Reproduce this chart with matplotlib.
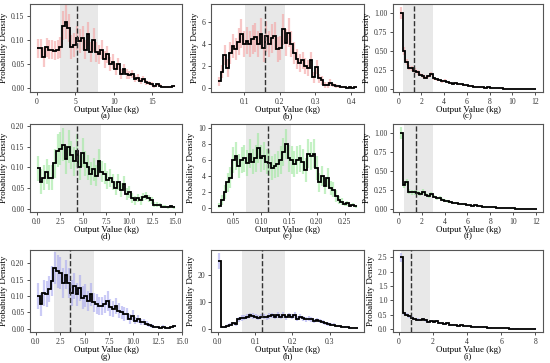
import numpy as np
import matplotlib
matplotlib.use("Agg")
import matplotlib.pyplot as plt

plt.rcParams['font.family'] = ['Liberation Serif', 'DejaVu Serif']

# (a)
a_start, a_width = 0.0, 0.36
a_vals = [0.083, 0.083, 0.065, 0.085, 0.080, 0.080, 0.078, 0.080, 0.085, 0.130,
          0.138, 0.125, 0.085, 0.090, 0.105, 0.098, 0.105, 0.080, 0.112, 0.075,
          0.100, 0.075, 0.070, 0.080, 0.060, 0.070, 0.050, 0.055, 0.040, 0.050,
          0.030, 0.040, 0.030, 0.028, 0.030, 0.020, 0.022, 0.015, 0.020, 0.012,
          0.010, 0.008, 0.004, 0.008, 0.005, 0.003, 0.003, 0.002, 0.003, 0.004]
a_errs = [0.020, 0.020, 0.020, 0.020, 0.020, 0.020, 0.020, 0.020, 0.022, 0.030,
          0.035, 0.030, 0.025, 0.025, 0.025, 0.025, 0.025, 0.020, 0.025, 0.020,
          0.025, 0.020, 0.020, 0.020, 0.018, 0.018, 0.015, 0.015, 0.012, 0.012,
          0.010, 0.010, 0.010, 0.008, 0.008, 0.007, 0.007, 0.006, 0.006, 0.005,
          0.004, 0.004, 0.003, 0.003, 0.003, 0.002, 0.002, 0.002, 0.002, 0.002]
a_band, a_mean = (3.0, 7.9), 5.2

# (b)
b_start, b_width = 0.026, 0.0078
b_vals = [0.6, 1.5, 3.0, 1.8, 3.2, 3.8, 3.5, 4.2, 4.9, 4.0,
          4.3, 4.0, 4.4, 4.6, 4.0, 4.9, 3.6, 4.7, 4.0, 4.5,
          4.7, 3.5, 3.6, 5.3, 4.1, 5.0, 4.0, 3.2, 2.6, 2.3,
          2.5, 2.0, 1.8, 2.5, 1.0, 1.9, 0.9, 0.7, 0.3, 0.3,
          0.5, 0.3, 0.2, 0.15, 0.1, 0.1, 0.05, 0.1, 0.05, 0.1]
b_errs = [0.4, 0.6, 0.9, 0.8, 1.0, 1.1, 1.0, 1.2, 1.3, 1.2,
          1.2, 1.2, 1.3, 1.3, 1.2, 1.4, 1.2, 1.4, 1.2, 1.3,
          1.3, 1.1, 1.1, 1.4, 1.2, 1.3, 1.2, 1.0, 0.9, 0.8,
          0.8, 0.7, 0.7, 0.8, 0.5, 0.6, 0.4, 0.4, 0.25, 0.25,
          0.3, 0.2, 0.2, 0.15, 0.1, 0.1, 0.08, 0.1, 0.08, 0.1]
b_band, b_mean = (0.101, 0.215), 0.158

# (c)
c_start, c_width = 0.1, 0.24
c_vals = [1.0, 0.5, 0.35, 0.28, 0.27, 0.24, 0.22, 0.19, 0.17, 0.15,
          0.17, 0.20, 0.14, 0.13, 0.12, 0.10, 0.11, 0.09, 0.08, 0.07,
          0.08, 0.06, 0.06, 0.05, 0.05, 0.04, 0.045, 0.03, 0.03, 0.02,
          0.02, 0.015, 0.02, 0.015, 0.01, 0.01, 0.008, 0.01, 0.006, 0.005,
          0.005, 0.004, 0.005, 0.003, 0.003, 0.004, 0.002, 0.003, 0.002, 0.002]
c_errs = [0.08, 0.05, 0.04, 0.035, 0.035, 0.03, 0.03, 0.025, 0.025, 0.02,
          0.02, 0.025, 0.02, 0.02, 0.015, 0.015, 0.015, 0.012, 0.012, 0.01,
          0.01, 0.01, 0.01, 0.008, 0.008, 0.006, 0.006, 0.005, 0.005, 0.004,
          0.004, 0.003, 0.004, 0.003, 0.002, 0.002, 0.002, 0.002, 0.002, 0.001,
          0.001, 0.001, 0.001, 0.001, 0.001, 0.001, 0.001, 0.001, 0.001, 0.001]
c_band, c_mean = (0.4, 3.05), 1.35

# (d)
d_start, d_width = 0.0, 0.3
d_vals = [0.098, 0.065, 0.075, 0.090, 0.075, 0.075, 0.110, 0.140, 0.145, 0.155,
          0.120, 0.150, 0.130, 0.115, 0.140, 0.100, 0.135, 0.110, 0.100, 0.085,
          0.095, 0.080, 0.115, 0.090, 0.085, 0.070, 0.075, 0.065, 0.050, 0.065,
          0.045, 0.060, 0.035, 0.040, 0.025, 0.020, 0.025, 0.020, 0.028, 0.030,
          0.025, 0.020, 0.010, 0.010, 0.008, 0.005, 0.005, 0.003, 0.006, 0.003]
d_errs = [0.03, 0.03, 0.03, 0.03, 0.03, 0.03, 0.035, 0.04, 0.04, 0.04,
          0.035, 0.04, 0.035, 0.035, 0.04, 0.03, 0.035, 0.03, 0.03, 0.028,
          0.028, 0.025, 0.03, 0.025, 0.025, 0.022, 0.022, 0.02, 0.018, 0.02,
          0.016, 0.018, 0.014, 0.014, 0.012, 0.01, 0.01, 0.01, 0.01, 0.01,
          0.008, 0.008, 0.006, 0.006, 0.005, 0.004, 0.004, 0.003, 0.004, 0.003]
d_band, d_mean = (2.5, 7.0), 4.4

# (e)
e_start, e_width = 0.0225, 0.005
e_vals = [0.3, 1.0, 2.0, 3.2, 3.8, 6.0, 6.5, 5.3, 6.0, 6.2,
          5.6, 6.8, 5.8, 6.2, 7.5, 6.2, 6.5, 5.8, 5.6, 5.0,
          5.3, 5.5, 6.0, 7.0, 8.0, 6.2, 6.0, 5.5, 6.0, 6.2,
          5.8, 4.8, 6.8, 6.5, 6.8, 5.0, 3.2, 4.0, 2.8, 3.8,
          2.5, 2.3, 1.5, 1.0, 0.8, 0.5, 0.6, 0.3, 0.4, 0.2]
e_errs = [0.3, 0.6, 0.9, 1.2, 1.3, 1.6, 1.7, 1.5, 1.6, 1.7,
          1.6, 1.8, 1.6, 1.7, 1.9, 1.7, 1.7, 1.6, 1.6, 1.5,
          1.5, 1.6, 1.7, 1.8, 1.9, 1.7, 1.7, 1.6, 1.7, 1.7,
          1.6, 1.5, 1.8, 1.7, 1.8, 1.5, 1.2, 1.3, 1.1, 1.2,
          0.9, 0.9, 0.7, 0.5, 0.4, 0.3, 0.3, 0.2, 0.2, 0.15]
e_band, e_mean = (0.073, 0.153), 0.113

# (f)
f_start, f_width = 0.1, 0.24
f_vals = [1.0, 0.32, 0.35, 0.23, 0.22, 0.22, 0.21, 0.20, 0.23, 0.19,
          0.17, 0.20, 0.16, 0.14, 0.15, 0.12, 0.11, 0.10, 0.095, 0.085,
          0.08, 0.07, 0.065, 0.06, 0.055, 0.05, 0.045, 0.05, 0.04, 0.035,
          0.03, 0.03, 0.025, 0.02, 0.02, 0.015, 0.015, 0.012, 0.01, 0.01,
          0.008, 0.008, 0.006, 0.006, 0.005, 0.005, 0.004, 0.004, 0.003, 0.003]
f_errs = [0.08, 0.04, 0.04, 0.03, 0.03, 0.03, 0.03, 0.03, 0.03, 0.025,
          0.025, 0.03, 0.02, 0.02, 0.02, 0.018, 0.016, 0.015, 0.014, 0.012,
          0.012, 0.01, 0.01, 0.01, 0.008, 0.008, 0.007, 0.008, 0.006, 0.006,
          0.005, 0.005, 0.004, 0.004, 0.004, 0.003, 0.003, 0.003, 0.002, 0.002,
          0.002, 0.002, 0.002, 0.002, 0.001, 0.001, 0.001, 0.001, 0.001, 0.001]
f_band, f_mean = (0.45, 3.0), 1.55

# (g)
g_start, g_width = 0.1, 0.285
g_vals = [0.100, 0.075, 0.110, 0.105, 0.120, 0.145, 0.185, 0.175, 0.170, 0.140,
          0.165, 0.140, 0.110, 0.130, 0.105, 0.125, 0.095, 0.100, 0.085, 0.105,
          0.080, 0.075, 0.070, 0.070, 0.075, 0.085, 0.065, 0.060, 0.070, 0.055,
          0.050, 0.045, 0.045, 0.030, 0.040, 0.025, 0.030, 0.020, 0.020, 0.015,
          0.010, 0.008, 0.005, 0.005, 0.003, 0.006, 0.003, 0.003, 0.005, 0.008]
g_errs = [0.04, 0.035, 0.04, 0.04, 0.04, 0.045, 0.05, 0.05, 0.05, 0.045,
          0.045, 0.045, 0.04, 0.04, 0.035, 0.04, 0.035, 0.035, 0.03, 0.035,
          0.03, 0.03, 0.028, 0.028, 0.028, 0.03, 0.025, 0.025, 0.025, 0.022,
          0.02, 0.02, 0.018, 0.015, 0.016, 0.012, 0.012, 0.01, 0.01, 0.008,
          0.006, 0.005, 0.004, 0.004, 0.003, 0.004, 0.003, 0.003, 0.003, 0.004]
g_band, g_mean = (1.9, 6.0), 3.5

# (h)
h_start, h_width = 0.0, 0.0075
h_vals = [25.5, 0.5, 0.8, 1.2, 1.5, 2.0, 1.8, 3.5, 4.0, 4.2,
          4.5, 5.0, 4.8, 4.5, 4.2, 4.5, 4.6, 4.3, 4.8, 5.0,
          4.6, 5.2, 4.5, 5.3, 4.3, 5.0, 4.6, 5.2, 3.8, 4.5,
          4.0, 3.5, 3.8, 3.5, 3.0, 3.2, 2.8, 2.5, 2.0, 1.8,
          1.5, 1.6, 1.2, 1.0, 0.8, 0.6, 0.5, 0.4, 0.3, 0.2]
h_errs = [3.0, 0.3, 0.4, 0.5, 0.6, 0.7, 0.7, 0.9, 1.0, 1.0,
          1.0, 1.1, 1.1, 1.0, 1.0, 1.0, 1.0, 1.0, 1.1, 1.1,
          1.0, 1.1, 1.0, 1.1, 1.0, 1.1, 1.0, 1.1, 0.9, 1.0,
          0.9, 0.9, 0.9, 0.9, 0.8, 0.8, 0.7, 0.7, 0.6, 0.6,
          0.5, 0.5, 0.4, 0.4, 0.3, 0.3, 0.2, 0.2, 0.15, 0.1]
h_band, h_mean = (0.065, 0.18), 0.12

# (i)
i_start, i_width = 0.05, 0.16
i_vals = [2.5, 0.55, 0.50, 0.45, 0.40, 0.36, 0.33, 0.32, 0.34, 0.30,
          0.26, 0.28, 0.24, 0.28, 0.22, 0.20, 0.18, 0.20, 0.16, 0.15,
          0.14, 0.12, 0.13, 0.11, 0.10, 0.11, 0.09, 0.08, 0.09, 0.07,
          0.06, 0.07, 0.05, 0.05, 0.04, 0.05, 0.04, 0.03, 0.03, 0.03,
          0.02, 0.02, 0.02, 0.02, 0.015, 0.015, 0.01, 0.01, 0.01, 0.02]
i_errs = [0.15, 0.06, 0.05, 0.05, 0.05, 0.04, 0.04, 0.04, 0.04, 0.04,
          0.035, 0.035, 0.03, 0.035, 0.03, 0.03, 0.025, 0.025, 0.02, 0.02,
          0.02, 0.02, 0.02, 0.015, 0.015, 0.015, 0.012, 0.012, 0.012, 0.01,
          0.01, 0.01, 0.008, 0.008, 0.006, 0.006, 0.006, 0.005, 0.005, 0.005,
          0.004, 0.004, 0.004, 0.004, 0.003, 0.003, 0.003, 0.003, 0.003, 0.003]
i_band, i_mean = (0.1, 1.8), 0.7

panels = [
    ("(a)", a_start, a_width, a_vals, a_errs, a_band, a_mean, "#f4a3a3", [0, 5, 10, 15], [0, 0.05, 0.10, 0.15], "%.2f", (-0.9, 18.9), (-0.008, 0.175)),
    ("(b)", b_start, b_width, b_vals, b_errs, b_band, b_mean, "#f4a3a3", [0.1, 0.2, 0.3, 0.4], [0, 2, 4, 6], "%d", (0.007, 0.436), (-0.35, 7.6)),
    ("(c)", c_start, c_width, c_vals, c_errs, c_band, c_mean, "#f4a3a3", [0, 2, 4, 6, 8, 10, 12], [0, 0.25, 0.5, 0.75, 1.0], "%.2f", (-0.5, 12.7), (-0.04, 1.12)),
    ("(d)", d_start, d_width, d_vals, d_errs, d_band, d_mean, "#9ee89e", [0, 2.5, 5, 7.5, 10, 12.5, 15], [0, 0.05, 0.10, 0.15, 0.20], "%.2f", (-0.75, 15.75), (-0.008, 0.205)),
    ("(e)", e_start, e_width, e_vals, e_errs, e_band, e_mean, "#9ee89e", [0.05, 0.10, 0.15, 0.20, 0.25], [0, 2, 4, 6, 8, 10], "%d", (0.01, 0.285), (-0.5, 10.5)),
    ("(f)", f_start, f_width, f_vals, f_errs, f_band, f_mean, "#9ee89e", [0, 2, 4, 6, 8, 10, 12], [0, 0.25, 0.5, 0.75, 1.0], "%.2f", (-0.5, 12.6), (-0.04, 1.12)),
    ("(g)", g_start, g_width, g_vals, g_errs, g_band, g_mean, "#a9a9f0", [0, 2.5, 5, 7.5, 10, 12.5, 15], [0, 0.05, 0.10, 0.15, 0.20], "%.2f", (-0.6, 15.0), (-0.01, 0.24)),
    ("(h)", h_start, h_width, h_vals, h_errs, h_band, h_mean, "#a9a9f0", [0, 0.1, 0.2, 0.3], [0, 10, 20], "%d", (-0.018, 0.392), (-1.2, 29.5)),
    ("(i)", i_start, i_width, i_vals, i_errs, i_band, i_mean, "#a9a9f0", [0, 2, 4, 6, 8], [0, 0.5, 1.0, 1.5, 2.0, 2.5], "%.1f", (-0.35, 8.45), (-0.1, 2.75)),
]

xfmts = {1: "%.1f", 3: "%.1f", 4: "%.2f", 6: "%.1f", 7: "%.1f"}

W, H = 550, 363
cols = [(30, 182), (211, 364), (393, 543)]
rows = [(4, 92), (124, 212), (250, 332)]

fig = plt.figure(figsize=(5.5, 3.63), dpi=100)

for k, (lab, x0, w, vals, errs, band, mean, col, xt, yt, yfmt, xl, yl) in enumerate(panels):
    c0, c1 = cols[k % 3]
    r0, r1 = rows[k // 3]
    ax = fig.add_axes([c0 / W, 1 - r1 / H, (c1 - c0) / W, (r1 - r0) / H])
    vals = np.array(vals)
    edges = x0 + w * np.arange(len(vals) + 1)
    centers = (edges[:-1] + edges[1:]) / 2
    ax.axvspan(band[0], band[1], color="#d9d9d9", alpha=0.6, lw=0, zorder=0)
    ax.errorbar(centers, vals, yerr=errs, fmt="none", ecolor=col, elinewidth=1.6, alpha=0.6, zorder=1)
    ax.stairs(vals, edges, baseline=None, color="black", lw=1.3, zorder=3)
    ax.axvline(mean, color="#333333", ls="--", lw=1.0, zorder=4)
    ax.set_xlim(*xl)
    ax.set_ylim(*yl)
    ax.set_xticks(xt)
    ax.set_yticks(yt)
    ax.yaxis.set_major_formatter(matplotlib.ticker.FormatStrFormatter(yfmt))
    if k in xfmts:
        ax.xaxis.set_major_formatter(matplotlib.ticker.FormatStrFormatter(xfmts[k]))
    ax.tick_params(labelsize=5.5, length=2.5, width=0.6, pad=1.5, colors="#333333")
    for s in ax.spines.values():
        s.set_color("#555555")
        s.set_linewidth(0.8)
    ax.set_xlabel("Output Value (kg)\n" + lab, fontsize=6.5, labelpad=0, linespacing=0.85)
    ax.set_ylabel("Probability Density", fontsize=6.5, labelpad=2)

fig.savefig("out.png", dpi=100)
